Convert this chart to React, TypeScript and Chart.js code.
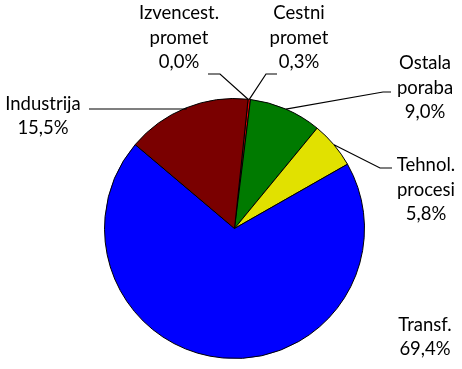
import React, { useEffect, useRef } from "react";
import { Chart, registerables } from "chart.js";

Chart.register(...registerables);

const categories = ["Izvencest.\npromet", "Cestni\npromet", "Ostala\nporaba", "Tehnol.\nprocesi", "Transf.", "Industrija"];
const values = [0.0, 0.3, 9.0, 5.8, 69.4, 15.5];
const valueLabels = ["0,0%", "0,3%", "9,0%", "5,8%", "69,4%", "15,5%"];
const colors = ["#FF0000", "#E00000", "#007A00", "#E1E100", "#0000FF", "#7A0000"];

// label block centers and leader line geometry (layout only)
const labelLayout = [
  { cx: 179, cy: 38, elbow: [220, 74], end: [208, 74] },
  { cx: 299, cy: 38, elbow: [266, 74], end: [277, 74] },
  { cx: 425, cy: 88, elbow: [383, 92], end: [391, 92] },
  { cx: 426, cy: 190, elbow: [380, 168], end: [392, 168] },
  { cx: 425, cy: 337, elbow: null, end: null },
  { cx: 43, cy: 116, elbow: null, end: [89, 109] },
];

const FONT = "18.5px Lato, 'Open Sans', sans-serif";
const LINE_H = 24.5;

const labelPlugin = {
  id: "pieLabels",
  afterDraw(chart: any) {
    const ctx = chart.ctx;
    const meta = chart.getDatasetMeta(0);
    ctx.save();
    ctx.font = FONT;
    ctx.fillStyle = "#000";
    ctx.textAlign = "center";
    ctx.textBaseline = "middle";
    meta.data.forEach((arc: any, i: number) => {
      const lay = labelLayout[i];
      const lines = categories[i].split("\n").concat([valueLabels[i]]);
      const top = lay.cy - ((lines.length - 1) * LINE_H) / 2;
      lines.forEach((t: string, k: number) => ctx.fillText(t, lay.cx, top + k * LINE_H));
      if (lay.end) {
        const p = arc.getProps(["x", "y", "startAngle", "endAngle", "outerRadius"], true);
        const mid = (p.startAngle + p.endAngle) / 2;
        const ex = p.x + Math.cos(mid) * p.outerRadius;
        const ey = p.y + Math.sin(mid) * p.outerRadius;
        ctx.beginPath();
        ctx.strokeStyle = "#000";
        ctx.lineWidth = 1.2;
        ctx.moveTo(ex, ey);
        if (lay.elbow) ctx.lineTo(lay.elbow[0], lay.elbow[1]);
        else ctx.lineTo(ex, lay.end[1]);
        ctx.lineTo(lay.end[0], lay.end[1]);
        ctx.stroke();
      }
    });
    ctx.restore();
  },
};

export default function App() {
  const ref = useRef<HTMLCanvasElement>(null);
  useEffect(() => {
    const chart = new Chart(ref.current!, {
      type: "pie",
      data: {
        labels: categories,
        datasets: [
          {
            data: values,
            backgroundColor: colors,
            borderColor: "#000",
            borderWidth: 1,
          },
        ],
      },
      options: {
        animation: false,
        responsive: false,
        rotation: 6,
        layout: { padding: { top: 98, bottom: 10, left: 104, right: 97 } },
        plugins: { legend: { display: false }, tooltip: { enabled: false } },
      },
      plugins: [labelPlugin],
    });
    return () => chart.destroy();
  }, []);
  return (
    <div style={{ position: "fixed", left: 0, top: 0, width: 462, height: 369, background: "#fff" }}>
      <canvas ref={ref} width={462} height={369} />
    </div>
  );
}
